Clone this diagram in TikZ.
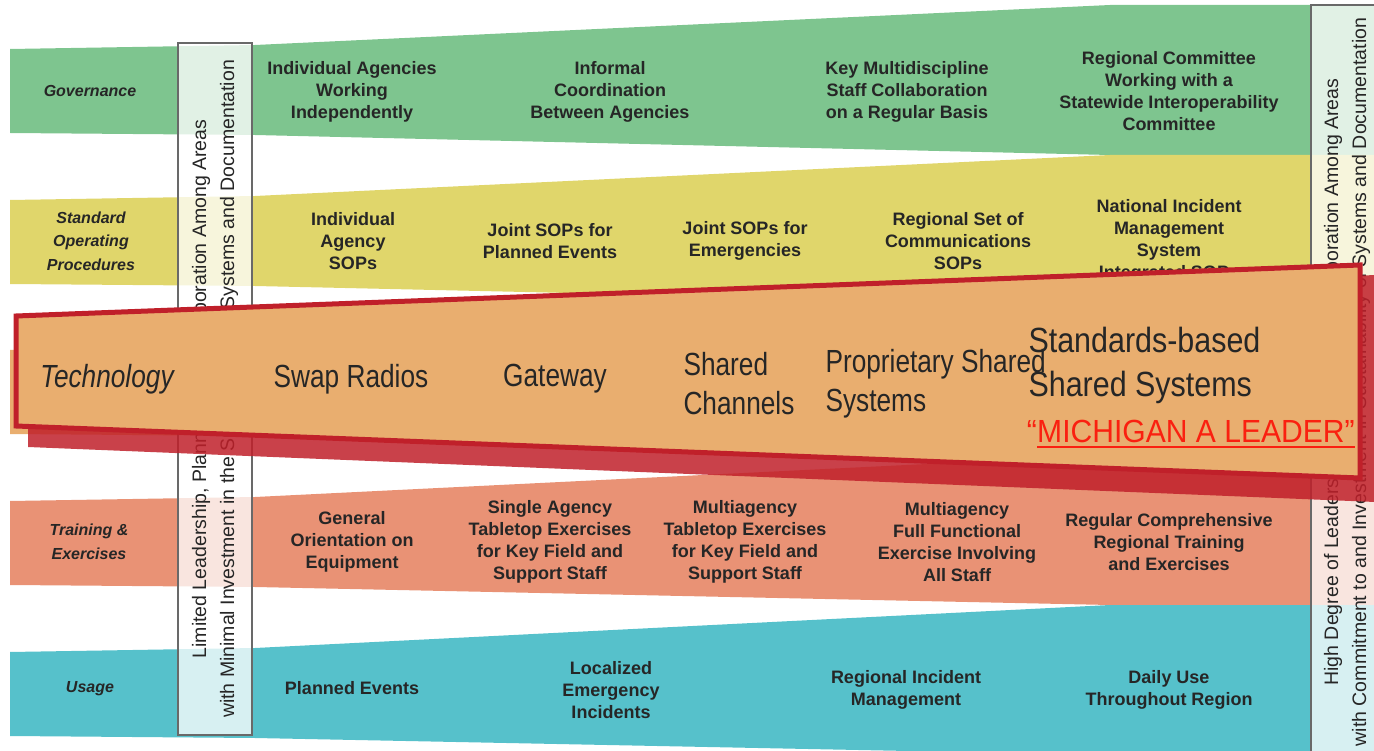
\documentclass[tikz,border=0pt]{standalone}
\usepackage{fontspec}
\setmainfont{Liberation Sans}
\newfontfamily\techfont[FakeStretch=0.82]{Liberation Sans}
\newfontfamily\stdfont[FakeStretch=0.87]{Liberation Sans}
\newfontfamily\leadfont[FakeStretch=0.94]{Liberation Sans}
\definecolor{govgreen}{RGB}{126,197,143}
\definecolor{sopyellow}{RGB}{224,214,107}
\definecolor{techorange}{RGB}{233,174,111}
\definecolor{trainred}{RGB}{233,146,117}
\definecolor{useteal}{RGB}{86,193,203}
\definecolor{boxgray}{RGB}{105,105,105}
\definecolor{zoomred}{RGB}{192,32,42}
\definecolor{leadred}{RGB}{250,32,16}
\definecolor{inktext}{RGB}{38,38,38}
\begin{document}
\begin{tikzpicture}[x=1pt,y=-1pt,
 item/.style={align=center,text=inktext,font=\fontsize{18}{22}\selectfont\bfseries},
 rowlabel/.style={align=center,text=inktext,font=\fontsize{16}{23.5}\selectfont\bfseries\itshape},
 sidebox/.style={fill=white,fill opacity=0.77,draw=boxgray,line width=2},
 sidetext/.style={rotate=90,align=center,text=inktext,font=\fontsize{19.5}{28}\selectfont},
 techitem/.style={text=inktext,font=\techfont\fontsize{32}{39}\selectfont},
 leaditem/.style={inner sep=0,text=leadred,font=\leadfont\fontsize{32}{38}\selectfont}]%
% page is 1374 x 751, one unit per pixel, y runs down
\useasboundingbox (0,0) rectangle (1374,751);
\clip (0,0) rectangle (1374,751);
\global\def\band#1#2#3{\fill[#1] (10,#2)
 --(255,#2-4)
 --(1110,#3)
 --(1390,#3)
 --(1390,#3+150)
 --(1110,#3+150)
 --(255,#2+86)
 --(10,#2+84) --cycle;}
\band{govgreen}{49}{5}
\band{sopyellow}{200}{155}
\band{techorange}{350}{305}
\band{trainred}{501}{455}
\band{useteal}{652}{605}
\node[rowlabel] (gov) at (90,91) {Governance};
\node[item] (gov1) at (352,92) {Individual Agencies\\Working\\Independently};
\node[item] (gov2) at (610,92) {Informal\\Coordination\\Between Agencies};
\node[item] (gov3) at (907,92) {Key Multidiscipline\\Staff Collaboration\\on a Regular Basis};
\node[item] (gov4) at (1169,91) {Regional Committee\\Working with a\\Statewide Interoperability\\Committee};
\node[rowlabel] (sop) at (91,241) {Standard\\Operating\\Procedures};
\node[item] (sop1) at (353,241) {Individual\\Agency\\SOPs};
\node[item] (sop2) at (550,241) {Joint SOPs for\\Planned Events};
\node[item] (sop3) at (745,241) {Joint SOPs for\\Emergencies};
\node[item] (sop4) at (958,241) {Regional Set of\\Communications\\SOPs};
\node[item] (sop5) at (1169,241) {National Incident\\Management\\System\\Integrated SOPs};
\node[rowlabel] (trn) at (89,542) {Training \&\\Exercises};
\node[item] (trn1) at (352,542) {General\\Orientation on\\Equipment};
\node[item] (trn2) at (550,542) {Single Agency\\Tabletop Exercises\\for Key Field and\\Support Staff};
\node[item] (trn3) at (745,542) {Multiagency\\Tabletop Exercises\\for Key Field and\\Support Staff};
\node[item] (trn4) at (957,542) {Multiagency\\Full Functional\\Exercise Involving\\All Staff};
\node[item] (trn5) at (1169,542) {Regular Comprehensive\\Regional Training\\and Exercises};
\node[rowlabel] (use) at (90,689) {Usage};
\node[item] (use1) at (352,688) {Planned Events};
\node[item] (use2) at (611,690) {Localized\\Emergency\\Incidents};
\node[item] (use3) at (906,690) {Regional Incident\\Management};
\node[item] (use4) at (1169,690) {Daily Use\\Throughout Region};
% the two ends of the continuum
\draw[sidebox] (178,43) rectangle (252,735);
\node[sidetext] (lowend) at (215,389) {Limited Leadership, Planning, and Collaboration Among Areas\\with Minimal Investment in the Sustainability of Systems and Documentation};
\draw[sidebox] (1311,5) rectangle (1400,770);
\node[sidetext] (highend) at (1347,382) {High Degree of Leadership, Planning, and Collaboration Among Areas\\with Commitment to and Investment in Sustainability of Systems and Documentation};
% technology row blown up on top
\fill[zoomred,opacity=0.85] (28,330)
 --(1400,274)
 --(1400,503)
 --(28,447) --cycle;
\draw[line width=5,draw=zoomred,fill=techorange] (16,316)
 --(1360,265)
 --(1360,478)
 --(16,426) --cycle;
\node[techitem,font=\techfont\fontsize{32}{39}\selectfont\itshape] (tech) at (107,379) {Technology};
\node[techitem] (tech1) at (351,379) {Swap Radios};
\node[techitem] (tech2) at (555,379) {Gateway};
\node[techitem,align=left,anchor=west] (tech3) at (680,384) {Shared\\Channels};
\node[techitem,align=left,anchor=west] (tech4) at (822,384) {Proprietary Shared\\Systems};
\node[techitem,align=left,anchor=west,font=\stdfont\fontsize{35}{44}\selectfont] (tech5) at (1025,365) {Standards-based\\Shared Systems};
\node[leaditem,anchor=base east] (leadq) at (1037,442) {“};
\node[leaditem,anchor=base west] (lead) at (1037,442) {MICHIGAN A LEADER”};
\draw[leadred,line width=2] ([yshift=-5pt]lead.base west) -- ([yshift=-5pt]lead.base east);
\end{tikzpicture}
\end{document}
